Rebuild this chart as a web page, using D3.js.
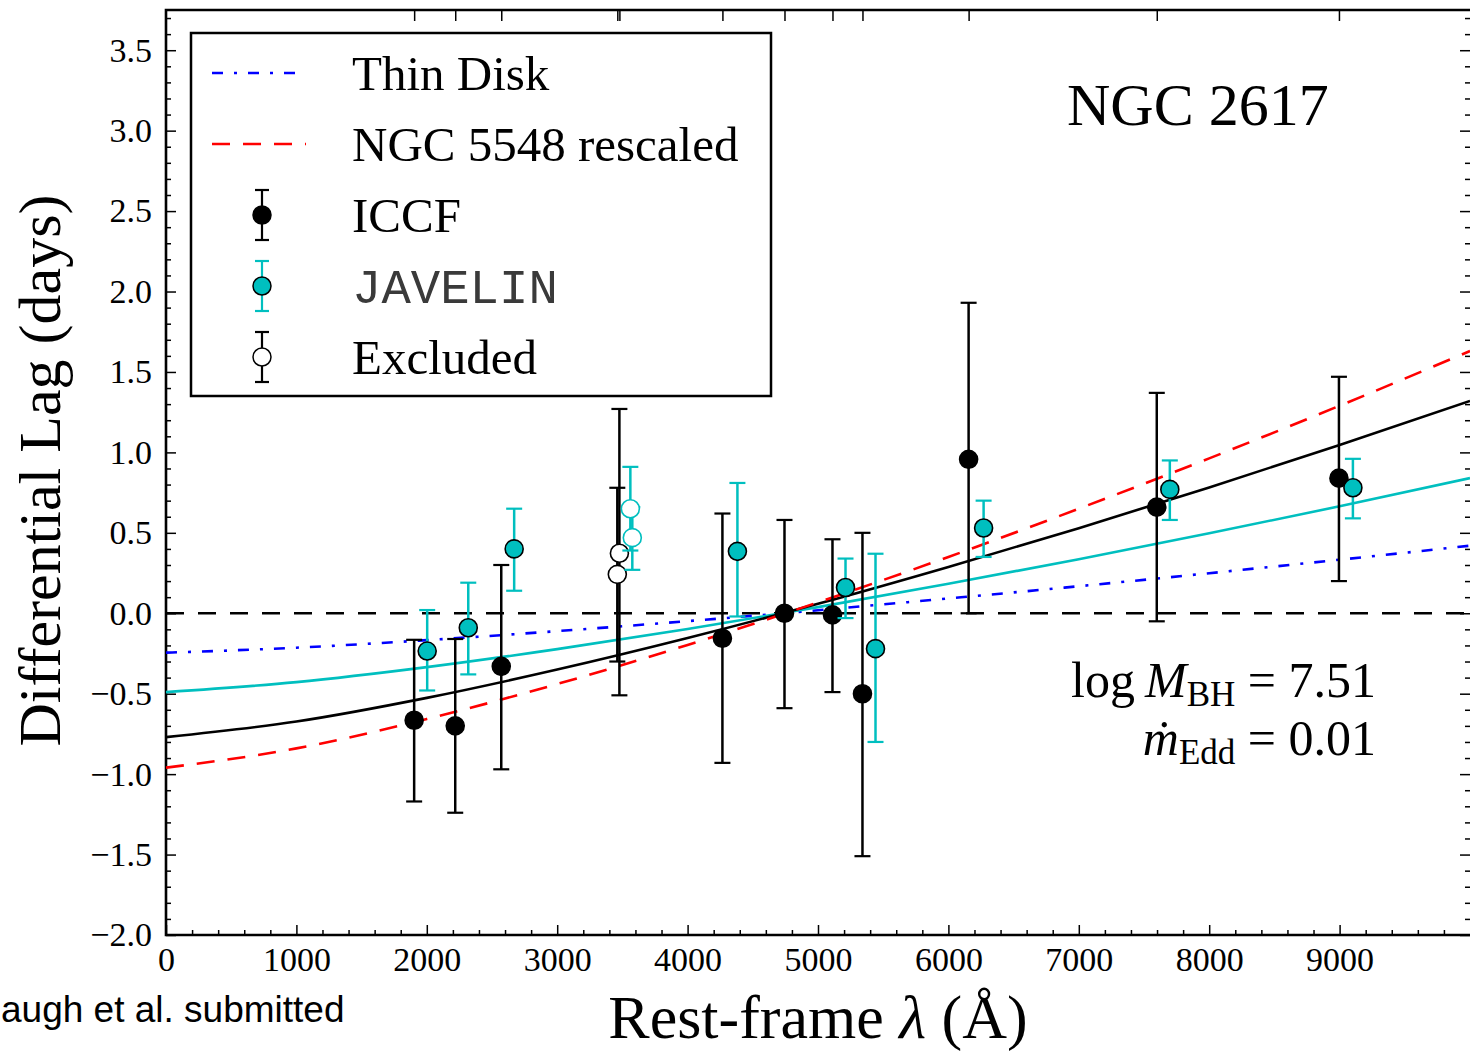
<!DOCTYPE html>
<html>
<head>
<meta charset="utf-8">
<script src="https://cdn.jsdelivr.net/npm/d3@7"></script>
<style>
  body { margin: 0; background: #fff; }
  svg { display: block; }
</style>
</head>
<body>
<div id="chart"></div>
<script>
const width = 1470;
const height = 1051;
const plot = { left: 166, top: 10, right: 1470, bottom: 935 };
const serif = "'Liberation Serif', 'Times New Roman', 'DejaVu Serif', serif";

// ICCF lags (black)
const iccfLambda = [1903, 2218, 2571, 4267, 4743, 5111, 5341, 6155, 7598, 8995];
const iccfLag = [-0.665, -0.70, -0.33, -0.155, 0.0, -0.01, -0.50, 0.957, 0.66, 0.84];
const iccfHi = [-0.165, -0.16, 0.30, 0.62, 0.58, 0.46, 0.50, 1.93, 1.37, 1.47];
const iccfLo = [-1.17, -1.24, -0.97, -0.93, -0.59, -0.49, -1.51, 0.0, -0.05, 0.20];

// JAVELIN lags (cyan), shifted +100 A for display
const javLambda = [2003, 2318, 2670, 4382, 5211, 5441, 6270, 7698, 9102];
const javLag = [-0.235, -0.09, 0.40, 0.385, 0.16, -0.22, 0.53, 0.77, 0.78];
const javHi = [0.02, 0.19, 0.65, 0.81, 0.34, 0.37, 0.70, 0.95, 0.96];
const javLo = [-0.48, -0.38, 0.14, -0.02, -0.03, -0.80, 0.35, 0.58, 0.59];

// excluded bands (open circles)
const exIccfLambda = [3461, 3477];
const exIccfLag = [0.242, 0.373];
const exIccfHi = [0.78, 1.27];
const exIccfLo = [-0.30, -0.51];
const exJavLambda = [3561, 3576];
const exJavLag = [0.65, 0.47];
const exJavHi = [0.91, 0.66];
const exJavLo = [0.39, 0.27];

// model curves, every 1000 A
const curveLambda = [0, 1000, 2000, 3000, 4000, 5000, 6000, 7000, 8000, 9000, 10000];
const thinDisk = [-0.245, -0.214, -0.167, -0.111, -0.049, 0.019, 0.092, 0.168, 0.249, 0.333, 0.420];
const rescaled = [-0.96, -0.84, -0.657, -0.44, -0.197, 0.068, 0.35, 0.65, 0.963, 1.29, 1.63];
const iccfFit = [-0.77, -0.673, -0.526, -0.35, -0.154, 0.059, 0.288, 0.529, 0.782, 1.046, 1.32];
const javFit = [-0.49, -0.428, -0.335, -0.223, -0.098, 0.038, 0.183, 0.336, 0.497, 0.665, 0.84];

const xTicks = [0, 1000, 2000, 3000, 4000, 5000, 6000, 7000, 8000, 9000];
const yTicks = [-2.0, -1.5, -1.0, -0.5, 0.0, 0.5, 1.0, 1.5, 2.0, 2.5, 3.0, 3.5];

const cyan = "#00bfbf";

const svg = d3.create("svg").attr("width", width).attr("height", height)
  .style("background", "#fff");

const x = d3.scaleLinear().domain([0, 10000]).range([plot.left, plot.right]);
const y = d3.scaleLinear().domain([-2, 3.75]).range([plot.bottom, plot.top]);

const xMinor = d3.range(0, 10001, 200).filter((v) => v % 1000 !== 0);
const yMinor = d3.range(-20, 38).map((v) => v / 10).filter((v) => Math.abs(v * 2 - Math.round(v * 2)) > 1e-6);

function styleAxis(g, labels) {
  g.select(".domain").remove();
  g.selectAll(".tick line").attr("stroke", "#000").attr("stroke-width", 1.5);
  g.selectAll(".tick text")
    .attr("fill", "#000")
    .attr("font-family", serif)
    .attr("font-size", labels ? "34px" : "0px");
}

// left axis
svg.append("g").attr("transform", `translate(${plot.left},0)`)
  .call(d3.axisLeft(y).tickValues(yTicks).tickSize(-10).tickPadding(14).tickFormat(d3.format(".1f")))
  .call((g) => styleAxis(g, true));
svg.append("g").attr("transform", `translate(${plot.left},0)`)
  .call(d3.axisLeft(y).tickValues(yMinor).tickSize(-5).tickFormat(""))
  .call((g) => styleAxis(g, false));
// right axis
svg.append("g").attr("transform", `translate(${plot.right},0)`)
  .call(d3.axisRight(y).tickValues(yTicks).tickSize(-10).tickFormat(""))
  .call((g) => styleAxis(g, false));
svg.append("g").attr("transform", `translate(${plot.right},0)`)
  .call(d3.axisRight(y).tickValues(yMinor).tickSize(-5).tickFormat(""))
  .call((g) => styleAxis(g, false));
// bottom axis
svg.append("g").attr("transform", `translate(0,${plot.bottom})`)
  .call(d3.axisBottom(x).tickValues(xTicks).tickSize(-10).tickPadding(12).tickFormat(d3.format("d")))
  .call((g) => styleAxis(g, true));
svg.append("g").attr("transform", `translate(0,${plot.bottom})`)
  .call(d3.axisBottom(x).tickValues(xMinor).tickSize(-5).tickFormat(""))
  .call((g) => styleAxis(g, false));
// top axis: one tick per band
svg.append("g").attr("transform", `translate(0,${plot.top})`)
  .call(d3.axisTop(x).tickValues(iccfLambda.concat(exIccfLambda)).tickSize(-11).tickFormat(""))
  .call((g) => styleAxis(g, false));

// frame
svg.append("path")
  .attr("d", `M${plot.right + 4},${plot.top}H${plot.left}V${plot.bottom}H${plot.right + 4}`)
  .attr("fill", "none").attr("stroke", "#000").attr("stroke-width", 2.6);

// zero line
svg.append("line")
  .attr("x1", x(0)).attr("x2", x(10000)).attr("y1", y(0)).attr("y2", y(0))
  .attr("stroke", "#000").attr("stroke-width", 2.5).attr("stroke-dasharray", "18,14");

const line = d3.line().x((d) => x(d[0])).y((d) => y(d[1])).curve(d3.curveMonotoneX);
const curves = [
  { v: thinDisk, color: "#0000ff", dash: "11,11,3,11" },
  { v: javFit, color: cyan, dash: null },
  { v: iccfFit, color: "#000", dash: null },
  { v: rescaled, color: "#ff0000", dash: "18,13" }
];
svg.append("g").selectAll("path").data(curves).join("path")
  .attr("d", (c) => line(curveLambda.map((l, i) => [l, c.v[i]])))
  .attr("fill", "none")
  .attr("stroke", (c) => c.color)
  .attr("stroke-width", 2.6)
  .attr("stroke-dasharray", (c) => c.dash);

function errorSet(lam, lag, hi, lo, color, fill) {
  const pts = lam.map((l, i) => ({ l, v: lag[i], hi: hi[i], lo: lo[i] }));
  const g = svg.append("g");
  g.selectAll("line.bar").data(pts).join("line").attr("class", "bar")
    .attr("x1", (d) => x(d.l)).attr("x2", (d) => x(d.l))
    .attr("y1", (d) => y(d.hi)).attr("y2", (d) => y(d.lo))
    .attr("stroke", color).attr("stroke-width", 2.5);
  pts.forEach((d) => {
    [d.hi, d.lo].forEach((e) => {
      g.append("line")
        .attr("x1", x(d.l) - 8).attr("x2", x(d.l) + 8)
        .attr("y1", y(e)).attr("y2", y(e))
        .attr("stroke", color).attr("stroke-width", 2.2);
    });
  });
  g.selectAll("circle").data(pts).join("circle")
    .attr("cx", (d) => x(d.l)).attr("cy", (d) => y(d.v)).attr("r", 9)
    .attr("fill", fill)
    .attr("stroke", fill === "#fff" ? color : "#000")
    .attr("stroke-width", 1.6);
}

errorSet(exIccfLambda, exIccfLag, exIccfHi, exIccfLo, "#000", "#fff");
errorSet(iccfLambda, iccfLag, iccfHi, iccfLo, "#000", "#000");
errorSet(exJavLambda, exJavLag, exJavHi, exJavLo, cyan, "#fff");
errorSet(javLambda, javLag, javHi, javLo, cyan, cyan);

// legend
const leg = svg.append("g");
leg.append("rect").attr("x", 191).attr("y", 33).attr("width", 580).attr("height", 363)
  .attr("fill", "#fff").attr("stroke", "#000").attr("stroke-width", 2.5);
const legItems = [
  { label: "Thin Disk", kind: "line", color: "#0000ff", dash: "11,11,3,11" },
  { label: "NGC 5548 rescaled", kind: "line", color: "#ff0000", dash: "18,13" },
  { label: "ICCF", kind: "pt", color: "#000", fill: "#000" },
  { label: "JAVELIN", kind: "pt", color: cyan, fill: cyan, mono: true },
  { label: "Excluded", kind: "pt", color: "#000", fill: "#fff" }
];
legItems.forEach((it, i) => {
  const cy = 73 + i * 71;
  if (it.kind === "line") {
    leg.append("line").attr("x1", 212).attr("x2", 306).attr("y1", cy).attr("y2", cy)
      .attr("stroke", it.color).attr("stroke-width", 2.5).attr("stroke-dasharray", it.dash);
  } else {
    leg.append("line").attr("x1", 262).attr("x2", 262).attr("y1", cy - 25).attr("y2", cy + 25)
      .attr("stroke", it.color).attr("stroke-width", 2.2);
    [cy - 25, cy + 25].forEach((yy) => leg.append("line")
      .attr("x1", 255).attr("x2", 269).attr("y1", yy).attr("y2", yy)
      .attr("stroke", it.color).attr("stroke-width", 2.2));
    leg.append("circle").attr("cx", 262).attr("cy", cy).attr("r", 9)
      .attr("fill", it.fill).attr("stroke", "#000").attr("stroke-width", 1.5);
  }
  leg.append("text").attr("x", 352).attr("y", cy + 17)
    .attr("font-family", it.mono ? "'Liberation Mono', 'Courier New', monospace" : serif)
    .attr("font-size", it.mono ? "49px" : "49px")
    .attr("fill", it.mono ? "#3a3a3a" : "#000")
    .attr("font-weight", it.mono ? 300 : null)
    .text(it.label);
});

// annotations
svg.append("text").attr("x", 1067).attr("y", 125)
  .attr("font-family", serif).attr("font-size", "60px").text("NGC 2617");

const t1 = svg.append("text").attr("x", 1376).attr("y", 697).attr("text-anchor", "end")
  .attr("font-family", serif).attr("font-size", "50px");
t1.append("tspan").text("log\u2009");
t1.append("tspan").attr("font-style", "italic").text("M");
t1.append("tspan").attr("font-size", "35px").attr("dy", 9).text("BH");
t1.append("tspan").attr("dy", -9).text(" = 7.51");

const t2 = svg.append("text").attr("x", 1376).attr("y", 755).attr("text-anchor", "end")
  .attr("font-family", serif).attr("font-size", "50px");
t2.append("tspan").attr("font-style", "italic").text("\u1E41");
t2.append("tspan").attr("font-size", "35px").attr("dy", 9).text("Edd");
t2.append("tspan").attr("dy", -9).text(" = 0.01");

// axis titles
svg.append("text")
  .attr("transform", `translate(60,${(plot.top + plot.bottom) / 2 - 2}) rotate(-90)`)
  .attr("text-anchor", "middle").attr("font-family", serif).attr("font-size", "60px")
  .text("Differential Lag (days)");

const xt = svg.append("text").attr("x", (plot.left + plot.right) / 2).attr("y", 1038)
  .attr("text-anchor", "middle").attr("font-family", serif).attr("font-size", "62px");
xt.append("tspan").text("Rest-frame ");
xt.append("tspan").attr("font-style", "italic").text("\u03BB");
xt.append("tspan").text(" (\u00C5)");

svg.append("text").attr("x", 1).attr("y", 1022)
  .attr("font-family", "'Liberation Sans', Arial, sans-serif").attr("font-size", "37px")
  .text("augh et al. submitted");

document.getElementById("chart").appendChild(svg.node());
</script>
</body>
</html>
